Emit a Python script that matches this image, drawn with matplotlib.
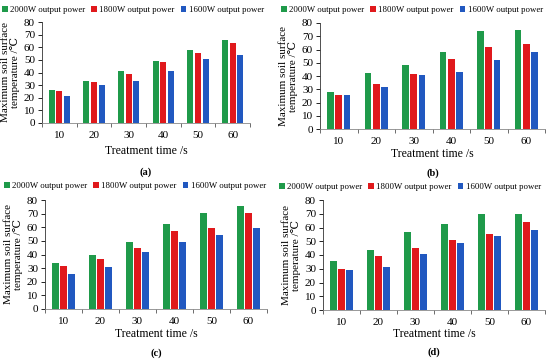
import matplotlib
matplotlib.use("Agg")
import matplotlib.pyplot as plt
import numpy as np

plt.rcParams['font.family'] = ['Liberation Serif', 'DejaVu Serif']

times = ["10", "20", "30", "40", "50", "60"]
series_names = ["2000W output power", "1800W output power", "1600W output power"]
colors = ["#1f9a4a", "#e0191c", "#2158c0"]

a_2000 = [26, 33, 41, 49, 57.5, 65.5]
a_1800 = [25.5, 32.5, 38.5, 48.5, 55.5, 63.5]
a_1600 = [21.5, 30, 33.5, 41, 51, 53.5]

b_2000 = [28, 42, 48.5, 58, 74, 75]
b_1800 = [26, 34, 41.5, 52.5, 62, 64]
b_1600 = [26, 32, 41, 43, 52, 58]

c_2000 = [33.5, 40, 49.5, 62.5, 70.5, 75.5]
c_1800 = [31.5, 37, 45, 57, 59.5, 70.5]
c_1600 = [26, 31, 41.5, 49.5, 54.5, 59.5]

d_2000 = [36, 43.5, 57, 62.5, 69.5, 70]
d_1800 = [30, 39, 45, 51, 55, 64]
d_1600 = [29, 31.5, 41, 48.5, 53.5, 58]

panels = [
    ("(a)", [a_2000, a_1800, a_1600]),
    ("(b)", [b_2000, b_1800, b_1600]),
    ("(c)", [c_2000, c_1800, c_1600]),
    ("(d)", [d_2000, d_1800, d_1600]),
]

W, H = 550, 360
fig = plt.figure(figsize=(W / 100, H / 100), dpi=100)

# axes boxes in pixels: left, top, right, bottom ; legend center x, y ; xlabel y ; panel label y
boxes = [
    (42, 22, 250, 123, 133, 10, 151, 172),
    (320, 23, 545, 129, 412, 10, 154, 173),
    (45, 200, 267, 309, 135, 186, 334, 353),
    (323, 200, 545, 310, 410, 187, 334, 352),
]

fs = 7.5
for (label, data), (l, t, r, b, lx, ly, xly, ply) in zip(panels, boxes):
    ax = fig.add_axes([l / W, 1 - b / H, (r - l) / W, (b - t) / H])
    x = np.arange(len(times))
    w = 0.18
    step = 0.22
    handles = []
    for i, (vals, name, col) in enumerate(zip(data, series_names, colors)):
        h = ax.bar(x + (i - 1) * step, vals, width=w, color=col, label=name)
        handles.append(h)
    ax.set_ylim(0, 80)
    ax.set_yticks(range(0, 81, 10))
    ax.set_xlim(-0.5, len(times) - 0.5)
    ax.set_xticks(x)
    ax.set_xticklabels(times)
    ax.set_xticks(np.arange(-0.5, len(times), 1.0), minor=True)
    ax.tick_params(axis='x', which='major', length=0, labelsize=fs + 0.5, pad=6)
    ax.tick_params(axis='x', which='minor', length=3, width=0.6, color="#555555")
    ax.tick_params(axis='y', labelsize=fs + 0.5, length=3, width=0.6, pad=2)
    for s in ["top", "right"]:
        ax.spines[s].set_visible(False)
    ax.spines["left"].set_linewidth(0.6)
    ax.spines["bottom"].set_linewidth(0.6)
    ax.spines["left"].set_color("#333333")
    ax.spines["bottom"].set_color("#888888")
    ax.set_ylabel("Maximum soil surface\ntemperature /\u2103", fontsize=fs + 0.5, labelpad=3,
                  linespacing=1.0)
    cx = (l + r) / 2
    fig.text(cx / W, 1 - xly / H, "Treatment time /s", fontsize=fs + 1, ha="center", va="center")
    fig.text(cx / W, 1 - ply / H, label, fontsize=fs, ha="center", va="center", fontweight="bold")
    fig.legend(handles=handles, labels=series_names, loc="center",
               bbox_to_anchor=(lx / W, 1 - ly / H), bbox_transform=fig.transFigure,
               ncol=3, frameon=False, fontsize=6.3, handlelength=0.6,
               handleheight=0.6, handletextpad=0.3, columnspacing=0.7,
               borderaxespad=0, borderpad=0)

fig.savefig("out.png", dpi=100)
